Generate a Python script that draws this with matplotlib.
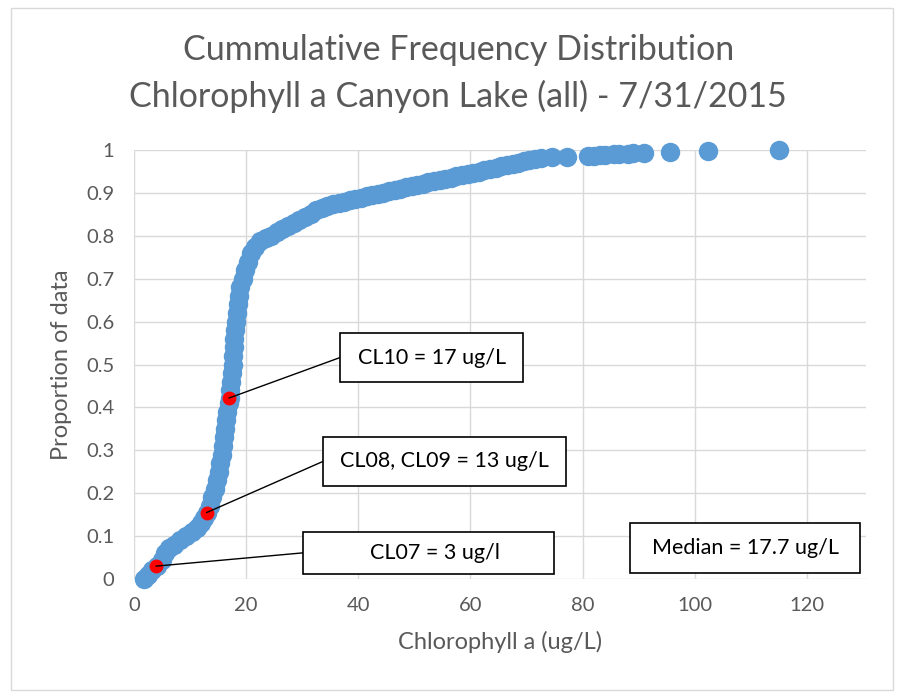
import matplotlib.pyplot as plt
from matplotlib.patches import Rectangle

plt.rcParams['font.family'] = ['Lato', 'DejaVu Sans']

# --- Data ---
chl = [1.8, 2.5, 3.2, 4.2, 5.0, 5.6, 6.3, 7.2, 8.2, 9.3, 10.3, 11.2, 12.0, 12.6,
       13.1, 13.6, 14.0, 14.4, 14.8, 15.1, 15.4, 15.7, 15.9, 16.1, 16.3, 16.5,
       16.7, 16.9, 17.1, 17.2, 17.3, 17.5, 17.6, 17.7, 17.8, 17.9, 18.0, 18.2,
       18.4, 18.6, 18.8, 19.0, 19.4, 19.8, 20.3, 20.9, 21.6, 22.5, 23.5, 24.5,
       25.5, 26.5, 27.5, 28.5, 29.5, 30.5, 31.5, 32.5, 33.5, 34.5, 35.5, 36.5,
       37.5, 38.5, 39.5, 40.5, 41.5, 42.5, 43.5, 44.5, 45.5, 46.5, 47.5, 48.5,
       49.5, 50.5, 51.5, 52.5, 53.5, 54.5, 55.5, 56.5, 57.5, 58.5, 59.5, 60.5,
       61.5, 62.5, 63.5, 64.5, 65.5, 66.5, 67.5, 68.5, 69.5, 70.5, 71.5, 72.5,
       74.6, 77.2, 81.0, 82.0, 83.0, 84.0, 85.5, 86.5, 88.0, 89.0, 91.0, 95.5,
       102.3, 115.0]
prop = [0.0, 0.01, 0.02, 0.03, 0.045, 0.06, 0.072, 0.08, 0.09, 0.10, 0.11, 0.12,
        0.13, 0.142, 0.154, 0.17, 0.19, 0.21, 0.23, 0.25, 0.27, 0.29, 0.31, 0.33,
        0.35, 0.37, 0.39, 0.41, 0.422, 0.44, 0.46, 0.48, 0.50, 0.52, 0.54, 0.56,
        0.58, 0.60, 0.62, 0.64, 0.66, 0.68, 0.70, 0.72, 0.74, 0.76, 0.775, 0.787,
        0.795, 0.80, 0.808, 0.815, 0.822, 0.83, 0.838, 0.845, 0.852, 0.86, 0.865,
        0.87, 0.874, 0.877, 0.88, 0.883, 0.886, 0.889, 0.892, 0.895, 0.898, 0.901,
        0.904, 0.907, 0.91, 0.913, 0.916, 0.919, 0.922, 0.925, 0.928, 0.93, 0.933,
        0.936, 0.939, 0.941, 0.944, 0.947, 0.95, 0.953, 0.956, 0.959, 0.962,
        0.965, 0.968, 0.971, 0.974, 0.977, 0.979, 0.981, 0.983, 0.985, 0.986,
        0.987, 0.988, 0.989, 0.990, 0.991, 0.992, 0.993, 0.994, 0.996, 0.998, 1.0]

# highlighted sites
site_x = [4.0, 13.0, 17.0]
site_y = [0.03, 0.155, 0.422]
site_labels = ['CL07 = 3 ug/l', 'CL08, CL09 = 13 ug/L', 'CL10 = 17 ug/L']
median_label = 'Median = 17.7 ug/L'

xticks = [0, 20, 40, 60, 80, 100, 120]
yticks = [0, 0.1, 0.2, 0.3, 0.4, 0.5, 0.6, 0.7, 0.8, 0.9, 1]
ytick_labels = ['0', '0.1', '0.2', '0.3', '0.4', '0.5', '0.6', '0.7', '0.8', '0.9', '1']

# --- Figure ---
fig = plt.figure(figsize=(9.04, 6.98), dpi=100)
fig.patches.append(Rectangle((0.012, 0.012), 0.976, 0.976, transform=fig.transFigure,
                             fill=False, edgecolor='#d9d9d9', lw=1))
ax = fig.add_axes([0.148, 0.1705, 0.81, 0.6145])

ax.plot(chl, prop, 'o', color='#5b9bd5', markersize=14, markeredgewidth=0,
        clip_on=False, zorder=3)
ax.plot(site_x, site_y, 'o', color='#ff0000', markersize=10, markeredgewidth=0,
        clip_on=False, zorder=4)

ax.set_xlim(0, 130.5)
ax.set_ylim(0, 1)
ax.set_xticks(xticks)
ax.set_yticks(yticks)
ax.set_yticklabels(ytick_labels)
ax.tick_params(length=0, labelsize=14.5, colors='#595959')
ax.tick_params(axis='x', pad=13)
ax.tick_params(axis='y', pad=14)
ax.grid(True, color='#d9d9d9', lw=1)
ax.set_axisbelow(True)
for s in ax.spines.values():
    s.set_visible(False)

ax.set_xlabel('Chlorophyll a (ug/L)', fontsize=17, color='#595959', labelpad=12)
ax.set_ylabel('Proportion of data', fontsize=17, color='#595959', labelpad=10)
fig.text(0.507, 0.928, 'Cummulative Frequency Distribution', ha='center', va='center',
         fontsize=24.5, color='#595959')
fig.text(0.507, 0.862, 'Chlorophyll a Canyon Lake (all) - 7/31/2015', ha='center',
         va='center', fontsize=24.5, color='#595959')

# annotation boxes: (x0, y0, x1, y1) in data units, text center
boxes = [(30.2, 0.012, 74.9, 0.110), (33.7, 0.217, 77.0, 0.331), (36.7, 0.459, 69.4, 0.573)]
text_x = [53.7, 55.4, 53.1]
for (x0, y0, x1, y1), tx, sx, sy, lab in zip(boxes, text_x, site_x, site_y, site_labels):
    ax.add_patch(Rectangle((x0, y0), x1 - x0, y1 - y0, facecolor='white',
                           edgecolor='black', lw=1.2, zorder=5, clip_on=False))
    ax.text(tx, (y0 + y1) / 2, lab, ha='center', va='center', fontsize=15.5,
            color='black', zorder=6)
    ax.plot([sx, x0], [sy, (y0 + y1) / 2], color='black', lw=1, zorder=4.5)

ax.add_patch(Rectangle((88.5, 0.014), 41.0, 0.117, facecolor='white',
                       edgecolor='black', lw=1.2, zorder=5, clip_on=False))
ax.text(109, 0.0725, median_label, ha='center', va='center', fontsize=15.5,
        color='black', zorder=6)

fig.savefig('out.png', dpi=100)
